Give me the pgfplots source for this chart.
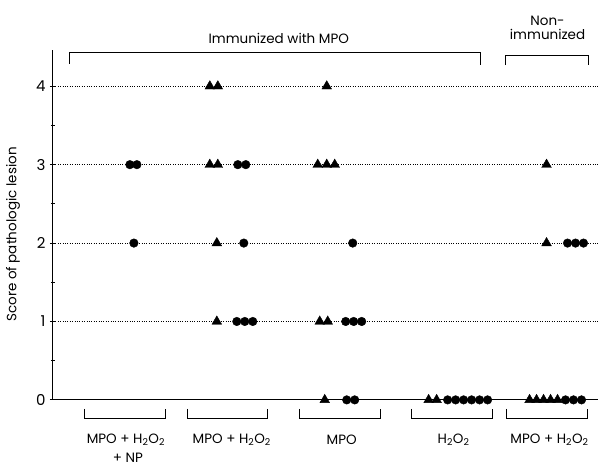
\documentclass[border=0pt]{standalone}
\usepackage{fontspec}
\setmainfont{Poppins}
\usepackage{pgfplots}
\pgfplotsset{compat=1.18}
\newcommand{\lbl}{\fontsize{13.5}{15}\selectfont}
\begin{document}
\begin{tikzpicture}
\begin{axis}[
  scale only axis, width=545pt, height=350pt,
  xmin=53, xmax=598, ymin=0, ymax=4.46,
  axis x line=bottom, axis y line=left,
  axis line style={-, line width=1pt},
  xtick=\empty, ytick={0,1,2,3,4}, minor ytick={0.5,1.5,2.5,3.5},
  ymajorgrids, major grid style={dotted, black, line width=0.8pt},
  tick style={black, line width=0.9pt}, tick align=center,
  major tick length=6pt, minor tick length=4pt,
  /pgf/number format/assume math mode=true,
  yticklabel style={font=\fontsize{15}{16}\selectfont, xshift=-1pt},
  clip=false,
]
% triangles
\addplot[only marks, mark=triangle*, mark size=5.6pt, black] coordinates {
  (210,4) (218,4) (327,4)
  (210,3) (218,3) (318,3) (327,3) (335,3) (547,3)
  (217,2) (547,2)
  (217,1) (320,1) (328,1)
  (325,0) (429,0) (437,0) (530,0) (537,0) (544,0) (551,0) (558,0)
};
% circles
\addplot[only marks, mark=*, mark size=4.3pt, black] coordinates {
  (130,3) (137,3) (238,3) (246,3)
  (134,2) (244,2) (353,2) (568,2) (576,2) (584,2)
  (237,1) (245,1) (253,1) (346,1) (354,1) (362,1)
  (347,0) (355,0) (448,0) (456,0) (464,0) (472,0) (480,0) (488,0)
  (566,0) (574,0) (582,0)
};
% size of the page
\path (axis cs:0,-0.79) rectangle (axis cs:598,5.10);
% top brackets
\draw[line width=1pt] (axis cs:70,4.29) -- (axis cs:70,4.43) -- (axis cs:481,4.43) -- (axis cs:481,4.27);
\draw[line width=1pt] (axis cs:506,4.27) -- (axis cs:506,4.395) -- (axis cs:589,4.395) -- (axis cs:589,4.27);
\node[font=\lbl] at (axis cs:279,4.61) {Immunized with MPO};
\node[font=\lbl, align=center, inner sep=0pt] at (axis cs:548,4.74) {Non-\\[-1pt]immunized};
% bottom brackets
\draw[line width=1pt] (axis cs:85,-0.115) -- (axis cs:85,-0.242) -- (axis cs:166,-0.242) -- (axis cs:166,-0.115);
\draw[line width=1pt] (axis cs:188,-0.115) -- (axis cs:188,-0.242) -- (axis cs:268,-0.242) -- (axis cs:268,-0.115);
\draw[line width=1pt] (axis cs:300,-0.115) -- (axis cs:300,-0.242) -- (axis cs:381,-0.242) -- (axis cs:381,-0.115);
\draw[line width=1pt] (axis cs:412,-0.115) -- (axis cs:412,-0.242) -- (axis cs:493,-0.242) -- (axis cs:493,-0.115);
\draw[line width=1pt] (axis cs:507,-0.115) -- (axis cs:507,-0.242) -- (axis cs:588,-0.242) -- (axis cs:588,-0.115);
\node[font=\lbl] at (axis cs:126,-0.51) {MPO + H\textsubscript{2}O\textsubscript{2}};
\node[font=\lbl] at (axis cs:128,-0.74) {+ NP};
\node[font=\lbl] at (axis cs:232,-0.51) {MPO + H\textsubscript{2}O\textsubscript{2}};
\node[font=\lbl] at (axis cs:342,-0.51) {MPO};
\node[font=\lbl] at (axis cs:454,-0.51) {H\textsubscript{2}O\textsubscript{2}};
\node[font=\lbl] at (axis cs:550,-0.51) {MPO + H\textsubscript{2}O\textsubscript{2}};
% y label
\node[font=\lbl, rotate=90] at (axis cs:13,2.11) {Score of pathologic lesion};
\end{axis}
\end{tikzpicture}
\end{document}
